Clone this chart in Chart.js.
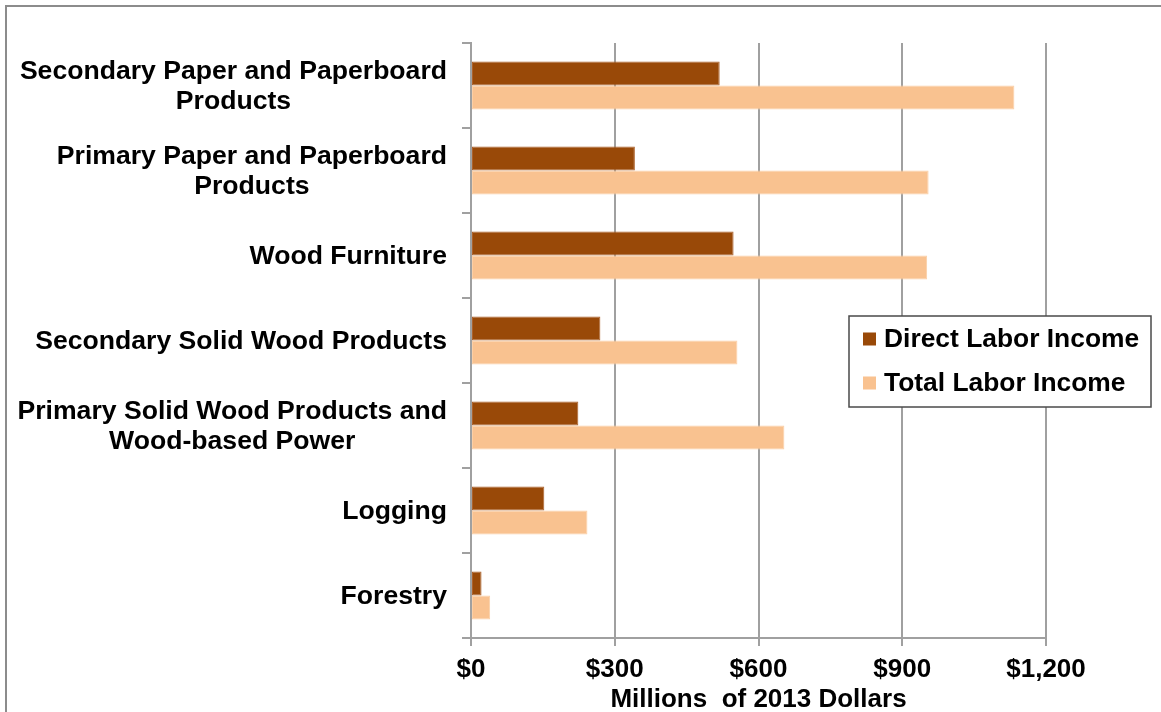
<!DOCTYPE html>
<html>
<head>
<meta charset="utf-8">
<title>Labor Income by Forest Products Sector</title>
<script src="https://cdn.jsdelivr.net/npm/chart.js@4/dist/chart.umd.min.js"></script>
<style>
  html, body { margin: 0; padding: 0; background: #fff; }
  #wrap { position: relative; width: 1161px; height: 712px; overflow: hidden; }
  #frame { position: absolute; left: 5px; top: 5px; width: 1200px; height: 800px;
           border-top: 2px solid #8c8c8c; border-left: 2px solid #8c8c8c; }
  #c { position: absolute; left: 0; top: 0; }
</style>
</head>
<body>
<div id="wrap">
  <div id="frame"></div>
  <canvas id="c" width="1161" height="712"></canvas>
</div>
<script>
// Sectors, top to bottom (multi-line names are split into lines)
const sectors = [
  ['Secondary Paper and Paperboard', 'Products'],
  ['Primary Paper and Paperboard', 'Products'],
  ['Wood Furniture'],
  ['Secondary Solid Wood Products'],
  ['Primary Solid Wood Products and', 'Wood-based Power'],
  ['Logging'],
  ['Forestry']
];

// Millions of 2013 dollars
const directLaborIncome = [519, 342, 548, 270, 224, 153, 22];
const totalLaborIncome  = [1134, 955, 952, 556, 654, 243, 40];

const seriesNames = ['Direct Labor Income', 'Total Labor Income'];
const xTickValues = [0, 300, 600, 900, 1200];
const xAxisTitle = 'Millions  of 2013 Dollars';

const FONT = "'Liberation Sans', Arial, Helvetica, sans-serif";
const GRID = '#a0a0a0';

// Category labels: each multi-line name is centred on itself and the block is right-aligned
const sectorLabels = {
  id: 'sectorLabels',
  afterDraw(chart, args, opts) {
    const ctx = chart.ctx;
    const y = chart.scales.y;
    ctx.save();
    ctx.font = `bold ${opts.size}px ${FONT}`;
    ctx.fillStyle = '#000';
    ctx.textBaseline = 'middle';
    ctx.textAlign = 'center';
    chart.data.labels.forEach((lines, i) => {
      const cy = y.getPixelForValue(i) + opts.shift;
      const widths = lines.map(l => ctx.measureText(l).width);
      const cx = opts.right - Math.max(...widths) / 2;
      const y0 = cy - (lines.length - 1) * opts.lineHeight / 2;
      lines.forEach((l, k) => ctx.fillText(l, cx, y0 + k * opts.lineHeight));
    });
    ctx.restore();
  }
};

// Boxed legend placed over the plot
const boxLegend = {
  id: 'boxLegend',
  afterDraw(chart, args, o) {
    const ctx = chart.ctx;
    ctx.save();
    ctx.fillStyle = '#fff';
    ctx.fillRect(o.x, o.y, o.w, o.h);
    ctx.strokeStyle = '#4a4a4a';
    ctx.lineWidth = 1.5;
    ctx.strokeRect(o.x, o.y, o.w, o.h);
    ctx.font = `bold ${o.size}px ${FONT}`;
    ctx.textBaseline = 'middle';
    ctx.textAlign = 'left';
    chart.data.datasets.forEach((ds, i) => {
      const cy = o.y + o.firstRow + i * o.rowGap;
      ctx.fillStyle = ds.backgroundColor;
      ctx.fillRect(o.x + o.markerX, cy - o.marker / 2, o.marker, o.marker);
      ctx.fillStyle = '#000';
      ctx.fillText(ds.label, o.x + o.textX, cy + 1);
    });
    ctx.restore();
  }
};

new Chart(document.getElementById('c'), {
  type: 'bar',
  data: {
    labels: sectors,
    datasets: [
      {
        label: seriesNames[0],
        data: directLaborIncome,
        backgroundColor: '#994908',
        borderColor: '#ad612a',
        borderWidth: 1,
        borderSkipped: false
      },
      {
        label: seriesNames[1],
        data: totalLaborIncome,
        backgroundColor: '#f9c290',
        borderColor: '#fbcfa6',
        borderWidth: 1,
        borderSkipped: false
      }
    ]
  },
  options: {
    indexAxis: 'y',
    responsive: false,
    animation: false,
    devicePixelRatio: 1,
    layout: { padding: { top: 43, right: 115, bottom: 0, left: 0 } },
    datasets: { bar: { categoryPercentage: 0.565, barPercentage: 1.0 } },
    scales: {
      x: {
        min: 0,
        max: 1200,
        afterBuildTicks: s => { s.ticks = xTickValues.map(v => ({ value: v })); },
        afterFit: s => { s.height = 74; },
        grid: { color: GRID, lineWidth: 2, drawTicks: true, tickLength: 8, tickColor: GRID },
        border: { display: true, color: GRID, width: 2 },
        ticks: {
          padding: 8,
          color: '#000',
          font: { family: FONT, size: 26, weight: 'bold' },
          callback: v => '$' + Number(v).toLocaleString('en-US')
        },
        title: {
          display: true,
          text: xAxisTitle,
          color: '#000',
          font: { family: FONT, size: 26, weight: 'bold' },
          padding: { top: 0, bottom: -3 }
        }
      },
      y: {
        afterFit: s => { s.width = 471; },
        grid: { drawOnChartArea: false, drawTicks: true, tickLength: 9, color: GRID, lineWidth: 2, offset: true },
        border: { display: true, color: GRID, width: 2 },
        ticks: { display: false }
      }
    },
    plugins: {
      legend: { display: false },
      tooltip: { enabled: false },
      sectorLabels: { right: 447, size: 26.6, lineHeight: 30, shift: 1.5 },
      boxLegend: { x: 849, y: 316, w: 302, h: 91, size: 26.4, marker: 13, markerX: 14, textX: 35, firstRow: 23, rowGap: 44 }
    }
  },
  plugins: [sectorLabels, boxLegend]
});
</script>
</body>
</html>
